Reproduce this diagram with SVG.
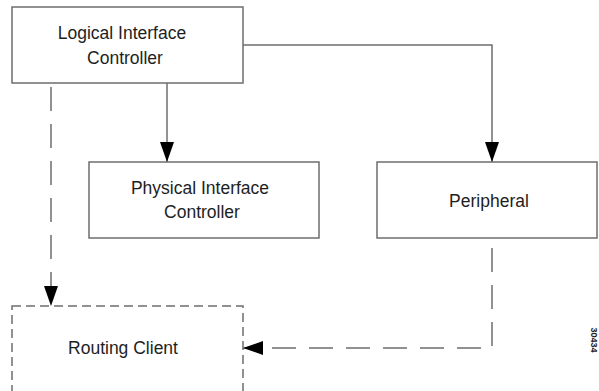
<svg xmlns="http://www.w3.org/2000/svg" width="599" height="391" viewBox="0 0 599 391">
  <style>
    .box { fill: #ffffff; stroke: #6e6e6e; stroke-width: 1.5; }
    .dbox { fill: #ffffff; stroke: #6e6e6e; stroke-width: 1.5; stroke-dasharray: 9 5; }
    .line { fill: none; stroke: #6e6e6e; stroke-width: 1.5; }
    .dline { fill: none; stroke: #6e6e6e; stroke-width: 1.5; stroke-dasharray: 24 13; }
    .lbl { font-family: "Liberation Sans", Arial, sans-serif; font-size: 17.5px; fill: #1e1e1e; text-anchor: middle; }
    .fig { font-family: "Liberation Sans", Arial, sans-serif; font-size: 9px; font-weight: bold; fill: #222; text-anchor: middle; }
  </style>
  <defs>
    <marker id="arrow" markerUnits="userSpaceOnUse" markerWidth="20" markerHeight="14" refX="20" refY="7" orient="auto">
      <path d="M0,0 L20,7 L0,14 Z" fill="#000"/>
    </marker>
  </defs>
  <rect width="599" height="391" fill="#ffffff"/>

  <g id="connectors">
    <line class="line" x1="167" y1="83" x2="167" y2="162" marker-end="url(#arrow)"/>
    <polyline class="line" points="243,45 492,45 492,162" marker-end="url(#arrow)"/>
    <line class="dline" x1="51" y1="83" x2="51" y2="306" stroke-dashoffset="-4" marker-end="url(#arrow)"/>
    <polyline class="dline" points="492,248 492,348 243,348" stroke-dasharray="24 14 24 14 24 14 22 13 22 13 22 13 22 13 22 13 22 13" marker-end="url(#arrow)"/>
  </g>

  <g id="node-lic">
    <rect class="box" x="12" y="7" width="231" height="76"/>
    <text class="lbl" x="122" y="39">Logical Interface</text>
    <text class="lbl" x="125" y="64">Controller</text>
  </g>

  <g id="node-pic">
    <rect class="box" x="89" y="162" width="230" height="76"/>
    <text class="lbl" x="200" y="194">Physical Interface</text>
    <text class="lbl" x="202" y="218">Controller</text>
  </g>

  <g id="node-peripheral">
    <rect class="box" x="377" y="162" width="220" height="76"/>
    <text class="lbl" x="489" y="207">Peripheral</text>
  </g>

  <g id="node-routing-client">
    <rect class="dbox" x="12" y="306" width="231" height="100"/>
    <text class="lbl" x="123" y="354">Routing Client</text>
  </g>

  <text class="fig" transform="translate(591,340) rotate(90)">30434</text>
</svg>
